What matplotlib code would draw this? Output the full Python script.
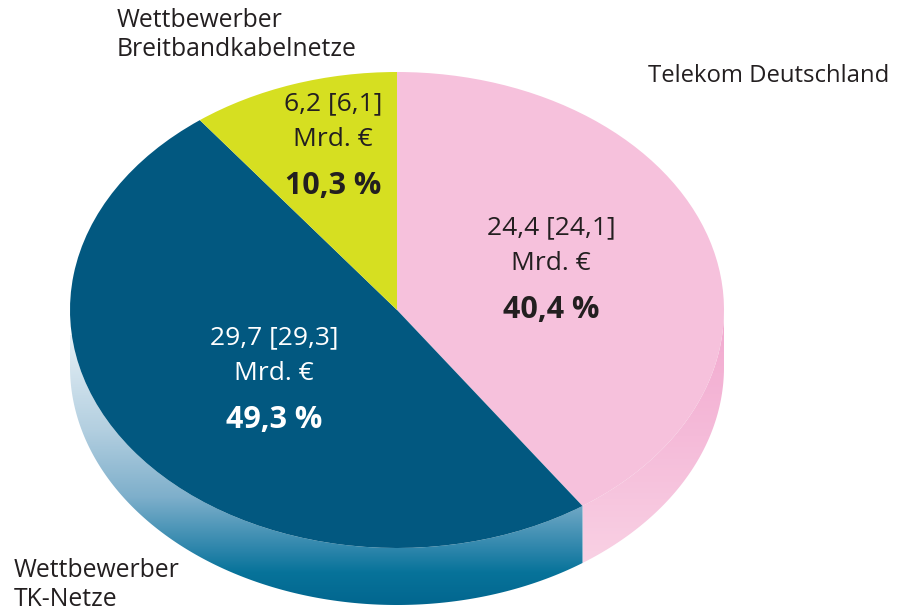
import numpy as np
import matplotlib
matplotlib.use("Agg")
import matplotlib.pyplot as plt
from matplotlib.patches import Wedge, Polygon
from matplotlib.transforms import Affine2D
from matplotlib.colors import LinearSegmentedColormap, to_rgb

# ---- data ----
categories = ["Telekom Deutschland", "Wettbewerber\nTK-Netze", "Wettbewerber\nBreitbandkabelnetze"]
shares = [40.4, 49.3, 10.3]
values_now = ["24,4", "29,7", "6,2"]
values_prev = ["24,1", "29,3", "6,1"]
share_labels = ["40,4 %", "49,3 %", "10,3 %"]

top_colors = ["#f6c1dc", "#025880", "#d6df21"]
text_colors = ["#231f20", "#ffffff", "#231f20"]

plt.rcParams['font.family'] = ['Open Sans', 'DejaVu Sans']

W, H = 897, 614
fig = plt.figure(figsize=(W / 100, H / 100), dpi=100)
ax = fig.add_axes([0, 0, 1, 1])
ax.set_xlim(0, W)
ax.set_ylim(H, 0)
ax.axis('off')

cx, cy, rx, ry, depth = 397, 310, 327, 238, 57

def pt(a_deg, dy=0.0):
    a = np.radians(a_deg)
    return cx + rx * np.cos(a), cy - ry * np.sin(a) + dy

# angles (math degrees, counter-clockwise) going clockwise from top
fracs = np.array(shares) / sum(shares)
cum = np.concatenate([[0], np.cumsum(fracs)])
starts = 90 - cum[1:] * 360
ends = 90 - cum[:-1] * 360

blue_cmap = LinearSegmentedColormap.from_list("bside", [(p, to_rgb(c)) for p, c in
    [(0.0, "#e6f0f6"), (0.35, "#b3cfe0"), (0.6, "#7eafcb"), (0.8, "#2a84aa"), (0.88, "#07739a"), (1.0, "#02668f")]])
pink_cmap = LinearSegmentedColormap.from_list("pside", [(p, to_rgb(c)) for p, c in
    [(0.0, "#f2a9cf"), (0.5, "#f5bbd9"), (1.0, "#f9d1e4")]])
side_cmaps = [pink_cmap, blue_cmap, None]

# ---- sides (front half only: math angles 180..360) ----
for i in range(len(shares)):
    a1, a2 = starts[i] % 360, ends[i] % 360
    if a2 <= a1:
        a2 += 360
    segs = []
    lo, hi = max(a1, 180), min(a2, 360)
    if lo < hi:
        segs.append((lo, hi))
    lo2, hi2 = max(a1, 540), min(a2, 720)
    if lo2 < hi2:
        segs.append((lo2, hi2))
    for lo_, hi_ in segs:
        ang = np.linspace(lo_, hi_, 200)
        tx, ty = pt(ang)
        bx, by = pt(ang[::-1], depth)
        poly = np.column_stack([np.concatenate([tx, bx]), np.concatenate([ty, by])])
        patch = Polygon(poly, closed=True, facecolor='none', edgecolor='none')
        ax.add_patch(patch)
        y0, y1 = poly[:, 1].min(), poly[:, 1].max()
        if i == 1:
            y0, y1 = cy + 25, cy + ry + depth
        grad = np.linspace(0, 1, 256).reshape(-1, 1)
        im = ax.imshow(grad, cmap=side_cmaps[i], aspect='auto', origin='upper',
                       extent=(poly[:, 0].min(), poly[:, 0].max(), y1, y0), zorder=1,
                       interpolation='bilinear')
        im.set_clip_path(patch)

# ---- top surface ----
tr = Affine2D().scale(rx, -ry).translate(cx, cy) + ax.transData
for i in range(len(shares)):
    w = Wedge((0, 0), 1, starts[i], ends[i], facecolor=top_colors[i],
              edgecolor='none', transform=tr, zorder=2)
    ax.add_patch(w)

# ---- in-slice labels ----
label_pos = [(551, 228), (274, 338), (333, 104)]
for i in range(len(shares)):
    x, y = label_pos[i]
    ax.text(x, y, f"{values_now[i]} [{values_prev[i]}]", ha='center', va='center',
            fontsize=19, color=text_colors[i], zorder=3)
    ax.text(x, y + 36, "Mrd. €", ha='center', va='center',
            fontsize=19, color=text_colors[i], zorder=3)
    ax.text(x, y + 82, share_labels[i], ha='center', va='center',
            fontsize=22, fontweight='bold', color=text_colors[i], zorder=3)

# ---- category labels ----
outer_pos = [(648, 76, 17.2), (14, 585, 17.8), (117, 35, 17.8)]
for i, (x, y, fs) in enumerate(outer_pos):
    ax.text(x, y, categories[i], ha='left', va='center', fontsize=fs,
            color="#231f20", linespacing=1.2, zorder=3)

fig.savefig("out.png", dpi=100)
